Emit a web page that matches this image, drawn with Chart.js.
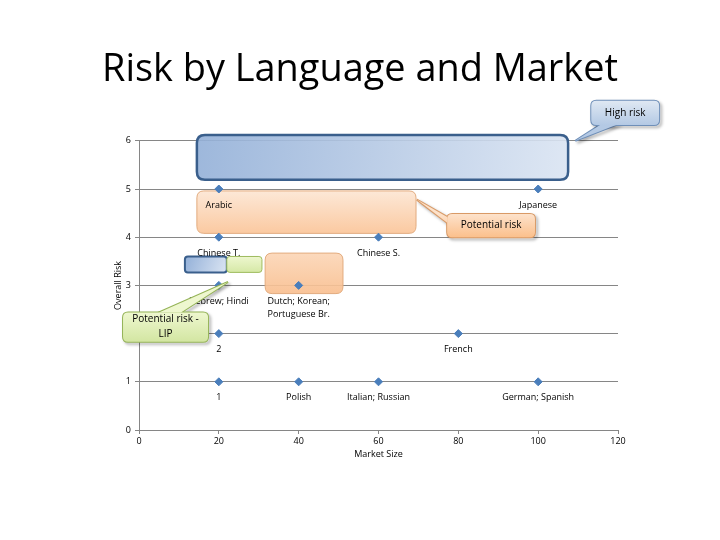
<!DOCTYPE html>
<html>
<head>
<meta charset="utf-8">
<script src="https://cdn.jsdelivr.net/npm/chart.js@4.4.0/dist/chart.umd.min.js"></script>
<style>
  html, body { margin: 0; padding: 0; background: #ffffff; }
  #chart { display: block; }
</style>
</head>
<body>
<canvas id="chart" width="720" height="540"></canvas>
<script>
// values
const marketSize = [20, 100, 20, 60, 20, 40, 20, 80, 20, 40, 60, 100];
const overallRisk = [5, 5, 4, 4, 3, 3, 2, 2, 1, 1, 1, 1];
const pointLabels = [
  ["Arabic"], ["Japanese"], ["Chinese T."], ["Chinese S."],
  ["Hebrew; Hindi"], ["Dutch; Korean;", "Portuguese Br."],
  ["2"], ["French"], ["1"], ["Polish"], ["Italian; Russian"], ["German; Spanish"]
];
const xTicks = [0, 20, 40, 60, 80, 100, 120];
const yTicks = [0, 1, 2, 3, 4, 5, 6];

const FONT = "'Open Sans', 'Liberation Sans', sans-serif";

// highlight boxes drawn over the plot, in data units
// diag: gradient runs corner to corner, otherwise top to bottom
const zones = [
  { x0: 14.5, x1: 107.5, y0: 6.12, y1: 5.19, r: 8, top: "#93b0d8", bottom: "#dbe5f3", diag: true, line: "#3a5f8c", lw: 2.5, alpha: 0.9 },
  { x0: 14.5, x1: 69.4, y0: 4.96, y1: 4.08, r: 7, top: "#fde6d3", bottom: "#fbc497", diag: false, line: "#e2ab7e", lw: 1, alpha: 0.9 },
  { x0: 11.5, x1: 22.0, y0: 3.6, y1: 3.27, r: 3, top: "#93b0d8", bottom: "#dbe5f3", diag: true, line: "#3a5f8c", lw: 2, alpha: 1 },
  { x0: 22.0, x1: 30.8, y0: 3.6, y1: 3.27, r: 3, top: "#eef7cf", bottom: "#d5e8a6", diag: false, line: "#9fbc5f", lw: 1, alpha: 1 },
  { x0: 31.6, x1: 51.1, y0: 3.67, y1: 2.83, r: 7, top: "#fcd6b6", bottom: "#f9be8e", diag: false, line: "#e2ab7e", lw: 1, alpha: 0.9 }
];

// callouts: box in data units, pointer base on box, tip in data units
const callouts = [
  { text: ["High risk"], x0: 113.3, x1: 130.3, y0: 6.83, y1: 6.33,
    base: [[115.5, 6.33], [119.5, 6.33]], tip: [109.3, 6.0],
    top: "#dfe8f3", bottom: "#b4c9e4", line: "#6f8fb8" },
  { text: ["Potential risk"], x0: 77.2, x1: 99.2, y0: 4.48, y1: 4.0,
    base: [[77.2, 4.42], [77.2, 4.3]], tip: [69.6, 4.78],
    top: "#fde2cb", bottom: "#fbc08c", line: "#d99a66" },
  { text: ["Potential risk -", "LIP"], x0: -4.0, x1: 17.3, y0: 2.44, y1: 1.83,
    base: [[5.0, 2.44], [10.5, 2.44]], tip: [22.3, 3.07],
    top: "#eef7cf", bottom: "#d3e6a2", line: "#94b356" }
];

function roundRect(ctx, x, y, w, h, r) {
  ctx.beginPath();
  ctx.moveTo(x + r, y);
  ctx.lineTo(x + w - r, y);
  ctx.quadraticCurveTo(x + w, y, x + w, y + r);
  ctx.lineTo(x + w, y + h - r);
  ctx.quadraticCurveTo(x + w, y + h, x + w - r, y + h);
  ctx.lineTo(x + r, y + h);
  ctx.quadraticCurveTo(x, y + h, x, y + h - r);
  ctx.lineTo(x, y + r);
  ctx.quadraticCurveTo(x, y, x + r, y);
  ctx.closePath();
}

const zonePlugin = {
  id: "zones",
  beforeDatasetsDraw(chart) {
    const { ctx, scales: { x, y } } = chart;
    zones.forEach(z => {
      const px0 = x.getPixelForValue(z.x0), px1 = x.getPixelForValue(z.x1);
      const py0 = y.getPixelForValue(z.y0), py1 = y.getPixelForValue(z.y1);
      const g = z.diag
        ? ctx.createLinearGradient(px0, py0, px1, py1)
        : ctx.createLinearGradient(0, py0, 0, py1);
      g.addColorStop(0, z.top);
      g.addColorStop(1, z.bottom);
      ctx.save();
      ctx.globalAlpha = z.alpha;
      roundRect(ctx, px0, py0, px1 - px0, py1 - py0, z.r);
      ctx.fillStyle = g;
      ctx.fill();
      ctx.globalAlpha = 1;
      ctx.lineWidth = z.lw;
      ctx.strokeStyle = z.line;
      ctx.stroke();
      ctx.restore();
    });
  }
};

const labelPlugin = {
  id: "pointLabels",
  afterDatasetsDraw(chart) {
    const { ctx } = chart;
    const meta = chart.getDatasetMeta(0);
    ctx.save();
    ctx.font = "9px " + FONT;
    ctx.fillStyle = "#000000";
    ctx.textAlign = "center";
    ctx.textBaseline = "middle";
    meta.data.forEach((pt, i) => {
      pointLabels[i].forEach((line, k) => {
        ctx.fillText(line, pt.x, pt.y + 16 + k * 13);
      });
    });
    ctx.restore();
  }
};

const calloutPlugin = {
  id: "callouts",
  afterDraw(chart) {
    const { ctx, scales: { x, y } } = chart;
    callouts.forEach(c => {
      const px0 = x.getPixelForValue(c.x0), px1 = x.getPixelForValue(c.x1);
      const py0 = y.getPixelForValue(c.y0), py1 = y.getPixelForValue(c.y1);
      const b = c.base.map(p => [x.getPixelForValue(p[0]), y.getPixelForValue(p[1])]);
      const t = [x.getPixelForValue(c.tip[0]), y.getPixelForValue(c.tip[1])];
      const g = ctx.createLinearGradient(0, py0, 0, py1);
      g.addColorStop(0, c.top);
      g.addColorStop(1, c.bottom);
      const pointer = () => {
        ctx.beginPath();
        ctx.moveTo(b[0][0], b[0][1]);
        ctx.lineTo(t[0], t[1]);
        ctx.lineTo(b[1][0], b[1][1]);
        ctx.closePath();
      };
      ctx.save();
      // outline of both parts first, then fill over the inner halves
      ctx.shadowColor = "rgba(0,0,0,0.35)";
      ctx.shadowOffsetX = 2;
      ctx.shadowOffsetY = 2;
      ctx.shadowBlur = 3;
      ctx.strokeStyle = c.line;
      ctx.lineWidth = 2;
      pointer(); ctx.stroke();
      roundRect(ctx, px0, py0, px1 - px0, py1 - py0, 5); ctx.stroke();
      ctx.shadowColor = "transparent";
      ctx.fillStyle = g;
      pointer(); ctx.fill();
      roundRect(ctx, px0, py0, px1 - px0, py1 - py0, 5); ctx.fill();
      ctx.fillStyle = "#000000";
      ctx.font = "10px " + FONT;
      ctx.textAlign = "center";
      ctx.textBaseline = "middle";
      const cx = (px0 + px1) / 2, cy = (py0 + py1) / 2;
      const n = c.text.length;
      c.text.forEach((line, k) => ctx.fillText(line, cx, cy + (k - (n - 1) / 2) * 15));
      ctx.restore();
    });
  }
};

new Chart(document.getElementById("chart"), {
  type: "scatter",
  data: {
    datasets: [{
      label: "Languages",
      data: marketSize.map((v, i) => ({ x: v, y: overallRisk[i] })),
      pointStyle: "rectRot",
      pointRadius: 4,
      pointBackgroundColor: "#4a7ebb",
      pointBorderColor: "#4a7ebb",
      pointBorderWidth: 1
    }]
  },
  options: {
    responsive: false,
    animation: false,
    layout: { padding: { left: 102, right: 102, top: 0, bottom: 79 } },
    plugins: {
      legend: { display: false },
      tooltip: { enabled: false },
      title: {
        display: true,
        text: "Risk by Language and Market",
        color: "#000000",
        font: { family: FONT, size: 39, weight: "normal" },
        padding: { top: 46, bottom: 48 }
      }
    },
    scales: {
      x: {
        type: "linear",
        min: 0, max: 120,
        afterBuildTicks: s => { s.ticks = xTicks.map(v => ({ value: v })); },
        afterFit: s => { s.height = 31; },
        grid: { drawOnChartArea: false, drawTicks: true, tickLength: 4, color: "#868686" },
        border: { color: "#868686" },
        ticks: { color: "#000000", font: { family: FONT, size: 9 }, padding: 2 },
        title: { display: true, text: "Market Size", color: "#000000", font: { family: FONT, size: 9 }, padding: { top: 0, bottom: 1 } }
      },
      y: {
        type: "linear",
        min: 0, max: 6,
        afterBuildTicks: s => { s.ticks = yTicks.map(v => ({ value: v })); },
        afterFit: s => { s.width = 37; },
        grid: { drawTicks: true, tickLength: 4, color: "#868686" },
        border: { color: "#868686" },
        ticks: { color: "#000000", font: { family: FONT, size: 9 }, padding: 4 },
        title: { display: true, text: "Overall Risk", color: "#000000", font: { family: FONT, size: 9 }, padding: { top: 11, bottom: 0 } }
      }
    }
  },
  plugins: [zonePlugin, labelPlugin, calloutPlugin]
});
</script>
</body>
</html>
